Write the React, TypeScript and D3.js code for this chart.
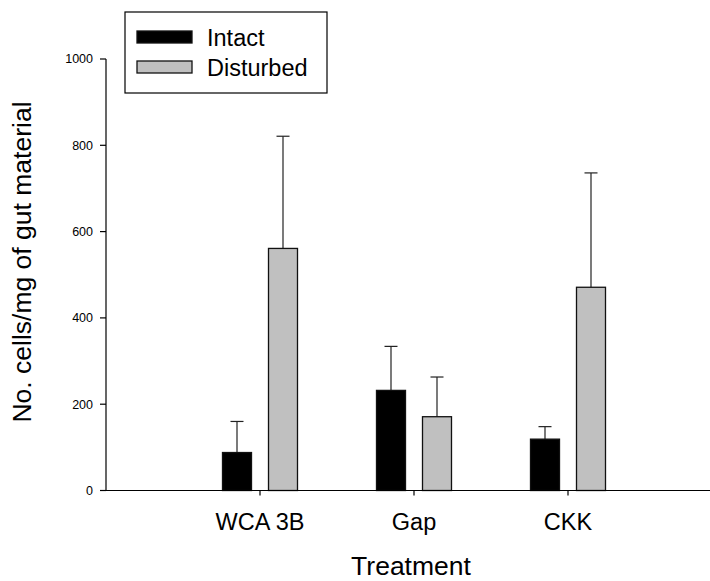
import React from "react";
import * as d3 from "d3";

const categories = ["WCA 3B", "Gap", "CKK"];
const seriesNames = ["Intact", "Disturbed"];
const intactValues = [88, 232, 119];
const intactErrors = [72, 102, 29];
const disturbedValues = [561, 171, 471];
const disturbedErrors = [260, 92, 265];
const yTicks = [0, 200, 400, 600, 800, 1000];
const fills = ["#000000", "#c0c0c0"];

const W = 710;
const H = 581;
const left = 106;
const top = 59;
const bottom = 490.5;
const font = "Arial, 'Liberation Sans', Helvetica, sans-serif";

export default function App() {
  const y = d3.scaleLinear().domain([0, 1000]).range([bottom, top]);
  const x = d3.scaleLinear().domain([0, 4]).range([left, left + 4 * 154]);
  const inner = d3
    .scaleBand<string>()
    .domain(seriesNames)
    .range([-37.5, 37.5])
    .paddingInner(0.3696)
    .paddingOuter(0);
  const bw = inner.bandwidth();
  const series = [
    { name: "Intact", values: intactValues, errors: intactErrors },
    { name: "Disturbed", values: disturbedValues, errors: disturbedErrors },
  ];
  const capW = 13;

  return (
    <svg
      width={W}
      height={H}
      style={{ position: "absolute", left: 0, top: 0, background: "#fff" }}
      fontFamily={font}
    >
      <rect x={0} y={0} width={W} height={H} fill="#fff" />
      {series.map((s, si) =>
        s.values.map((v, ci) => {
          const cx = x(ci + 1);
          const bx = cx + (inner(s.name) as number);
          const mid = bx + bw / 2;
          const yTop = y(v);
          const yErr = y(v + s.errors[ci]);
          return (
            <g key={s.name + ci}>
              <line x1={mid} x2={mid} y1={yTop} y2={yErr} stroke="#222" strokeWidth={1.2} />
              <line x1={mid - capW / 2} x2={mid + capW / 2} y1={yErr} y2={yErr} stroke="#222" strokeWidth={1.2} />
              <rect
                x={bx}
                y={yTop}
                width={bw}
                height={y(0) - yTop}
                fill={fills[si]}
                stroke="#111"
                strokeWidth={1.3}
              />
            </g>
          );
        })
      )}
      <line x1={left} x2={left} y1={top} y2={bottom} stroke="#000" strokeWidth={1.2} />
      {yTicks.map((t) => (
        <g key={t}>
          <line x1={left - 6} x2={left} y1={y(t)} y2={y(t)} stroke="#000" strokeWidth={1.2} />
          <text x={left - 13} y={y(t)} dy="0.35em" textAnchor="end" fontSize={12.5} fill="#000">
            {t}
          </text>
        </g>
      ))}
      <line x1={left} x2={W} y1={bottom} y2={bottom} stroke="#000" strokeWidth={1.2} />
      {categories.map((c, i) => (
        <g key={c}>
          <line x1={x(i + 1)} x2={x(i + 1)} y1={bottom} y2={bottom + 5} stroke="#000" strokeWidth={1.2} />
          <text x={x(i + 1)} y={530} textAnchor="middle" fontSize={23.5} fill="#000">
            {c}
          </text>
        </g>
      ))}
      <text x={411} y={575} textAnchor="middle" fontSize={26.5} fill="#000">
        Treatment
      </text>
      <text
        transform={`translate(31, 262) rotate(-90)`}
        textAnchor="middle"
        fontSize={26.5}
        fill="#000"
      >
        No. cells/mg of gut material
      </text>
      <rect x={125} y={12} width={202} height={81} fill="#fff" stroke="#000" strokeWidth={1.2} />
      {seriesNames.map((n, i) => (
        <g key={n}>
          <rect
            x={137}
            y={31 + i * 30}
            width={55}
            height={12}
            fill={fills[i]}
            stroke="#111"
            strokeWidth={1.3}
          />
          <text x={207} y={46 + i * 30} fontSize={23.5} fill="#000">
            {n}
          </text>
        </g>
      ))}
    </svg>
  );
}
